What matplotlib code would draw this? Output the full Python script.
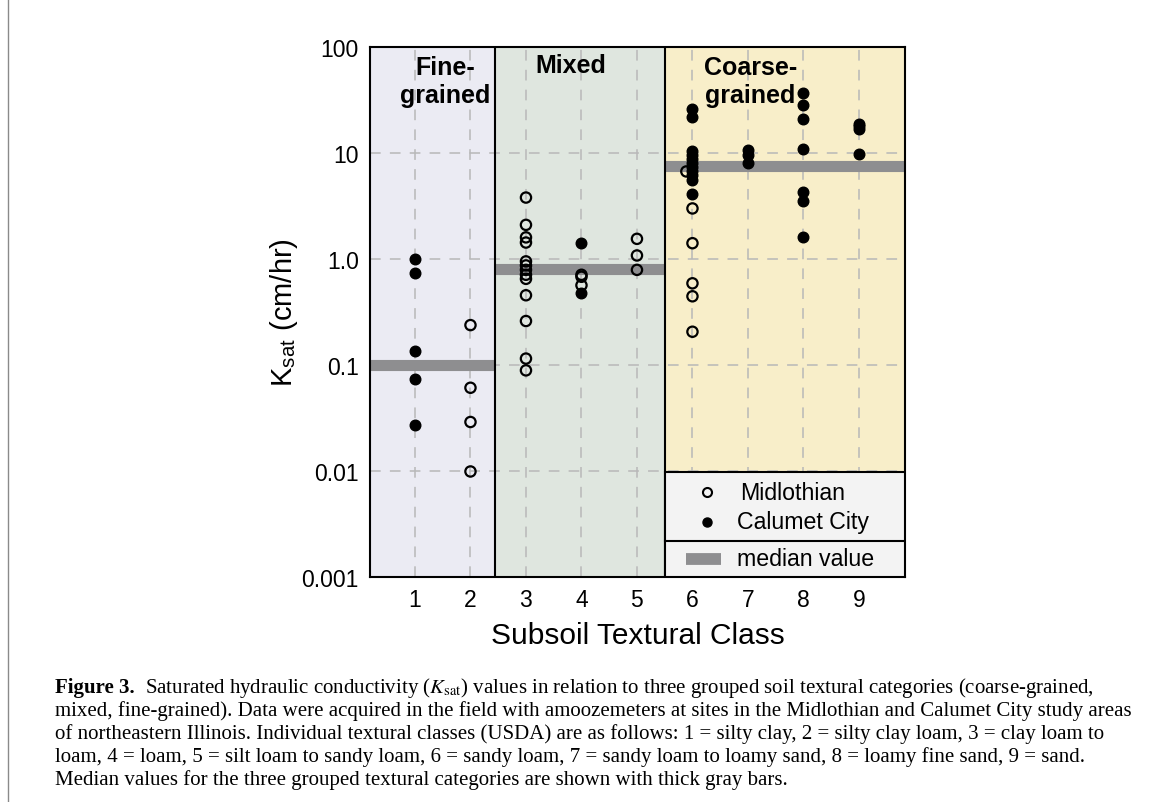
import matplotlib
matplotlib.use("Agg")
from matplotlib import pyplot as plt
from matplotlib.patches import Rectangle
from matplotlib.lines import Line2D

plt.rcParams['font.family'] = ['Liberation Sans', 'DejaVu Sans']
plt.rcParams['mathtext.fontset'] = 'stix'

# Midlothian (open circles): textural class, Ksat (cm/hr)
mid_class = [2, 2, 2, 2,
             3, 3, 3, 3, 3, 3, 3, 3, 3, 3, 3, 3, 3,
             4, 4, 4,
             5, 5, 5,
             5.89, 6, 6, 6, 6, 6]
mid_ksat = [0.238, 0.061, 0.029, 0.0099,
            3.8, 2.1, 1.6, 1.43, 0.95, 0.87, 0.79, 0.71, 0.65, 0.455, 0.26, 0.115, 0.089,
            0.71, 0.68, 0.565,
            1.55, 1.08, 0.79,
            6.7, 3.0, 1.41, 0.59, 0.445, 0.206]

# Calumet City (filled circles)
cal_class = [1, 1, 1, 1, 1,
             4, 4,
             6, 6, 6, 6, 6, 6, 6, 6, 6, 6, 6,
             7, 7, 7,
             8, 8, 8, 8, 8, 8, 8,
             9, 9, 9, 9]
cal_ksat = [0.99, 0.73, 0.137, 0.073, 0.027,
            1.41, 0.48,
            26.1, 22.1, 10.4, 9.6, 8.8, 8.1, 7.4, 6.7, 6.2, 5.6, 4.15,
            10.7, 9.6, 8.1,
            36.6, 28.1, 21.0, 10.8, 4.3, 3.54, 1.6,
            18.9, 17.8, 16.9, 9.86]

# grouped categories
groups = ['Fine-\ngrained', 'Mixed', 'Coarse-\ngrained']
group_edges = [0.19, 2.45, 5.5, 9.83]
group_colors = ['#ebebf3', '#dfe6df', '#f8eec9']
medians = [0.101, 0.81, 7.5]

xticks = [1, 2, 3, 4, 5, 6, 7, 8, 9]
yticks = [0.001, 0.01, 0.1, 1, 10, 100]
ytick_labels = ['0.001', '0.01', '0.1', '1.0', '10', '100']

fig = plt.figure(figsize=(11.52, 8.03), dpi=100)
ax = fig.add_axes([0.3212, 0.2802, 0.4644, 0.66])
ax.set_yscale('log')
ax.set_xlim(group_edges[0], group_edges[-1])
ax.set_ylim(0.001, 100)

for i in range(3):
    ax.axvspan(group_edges[i], group_edges[i + 1], color=group_colors[i], zorder=0, lw=0)
    ax.hlines(medians[i], group_edges[i], group_edges[i + 1], color='#8e8e90', lw=8, zorder=2)
for e in group_edges[1:-1]:
    ax.axvline(e, color='black', lw=1.5, zorder=4)

ax.set_xticks(xticks)
ax.set_yticks(yticks)
ax.set_yticklabels(ytick_labels)
ax.minorticks_off()
ax.tick_params(length=0, labelsize=16.5, pad=8)
ax.grid(True, color='#b8b8b8', ls=(0, (7, 6)), lw=1.1, zorder=1)
ax.set_axisbelow(True)

ax.scatter(mid_class, mid_ksat, s=55, facecolors='none', edgecolors='black', linewidths=1.6, zorder=3)
ax.scatter(cal_class, cal_ksat, s=58, color='black', zorder=3)

for sp in ax.spines.values():
    sp.set_linewidth(1.5)
    sp.set_zorder(6)

# panel titles
tr = ax.get_xaxis_transform()
ax.text(1.55, 0.936, groups[0], transform=tr, ha='center', va='center', fontsize=18,
        fontweight='bold', linespacing=1.2, zorder=5)
ax.text(3.8, 0.966, groups[1], transform=tr, ha='center', va='center', fontsize=18,
        fontweight='bold', zorder=5)
ax.text(7.04, 0.936, groups[2], transform=tr, ha='center', va='center', fontsize=18,
        fontweight='bold', linespacing=1.2, zorder=5)

ax.set_xlabel('Subsoil Textural Class', fontsize=21.5, labelpad=7)
ax.set_ylabel(r'K$_\mathregular{sat}$ (cm/hr)', fontsize=21, labelpad=1)

# legend box
ax.add_patch(Rectangle((0.551, 0), 0.449, 0.198, transform=ax.transAxes,
                       facecolor='#f3f3f3', edgecolor='black', lw=1.5, zorder=7))
ax.plot([0.551, 1], [0.068, 0.068], transform=ax.transAxes, color='black', lw=1.5, zorder=8)
ax.plot(0.630, 0.160, 'o', transform=ax.transAxes, ms=6.5, mfc='none', mec='black', mew=1.5, zorder=8)
ax.plot(0.630, 0.104, 'o', transform=ax.transAxes, ms=6.5, color='black', zorder=8)
ax.plot([0.591, 0.656], [0.034, 0.034], transform=ax.transAxes, color='#8e8e90', lw=8.5,
        solid_capstyle='butt', zorder=8)
ax.text(0.692, 0.160, 'Midlothian', transform=ax.transAxes, va='center', fontsize=16.7, zorder=9)
ax.text(0.686, 0.104, 'Calumet City', transform=ax.transAxes, va='center', fontsize=16.7, zorder=9)
ax.text(0.686, 0.034, 'median value', transform=ax.transAxes, va='center', fontsize=16.7, zorder=9)

# thin page border on the left
fig.add_artist(Line2D([8 / 1152, 8 / 1152], [0, 1], color='#8a8a8a', lw=1))

# caption
cap_font = ['Liberation Serif', 'DejaVu Serif']
lines = [
    r'Saturated hydraulic conductivity ($K_{\mathrm{sat}}$) values in relation to three grouped soil textural categories (coarse-grained,',
    'mixed, fine-grained). Data were acquired in the field with amoozemeters at sites in the Midlothian and Calumet City study areas',
    'of northeastern Illinois. Individual textural classes (USDA) are as follows: 1 = silty clay, 2 = silty clay loam, 3 = clay loam to',
    'loam, 4 = loam, 5 = silt loam to sandy loam, 6 = sandy loam, 7 = sandy loam to loamy sand, 8 = loamy fine sand, 9 = sand.',
    'Median values for the three grouped textural categories are shown with thick gray bars.',
]
x0 = 55 / 1152
ys = [688, 711, 734, 757, 780]
cap_size = 15
lab = fig.text(x0, 1 - ys[0] / 803, 'Figure 3.', fontsize=cap_size, fontweight='bold',
               family=cap_font, va='center')
fig.canvas.draw()
bb = lab.get_window_extent()
fig.text(bb.x1 / 1152 + 10 / 1152, 1 - ys[0] / 803, lines[0], fontsize=cap_size, family=cap_font, va='center')
for y, t in zip(ys[1:], lines[1:]):
    fig.text(x0, 1 - y / 803, t, fontsize=cap_size, family=cap_font, va='center')

fig.savefig('out.png', dpi=100)
